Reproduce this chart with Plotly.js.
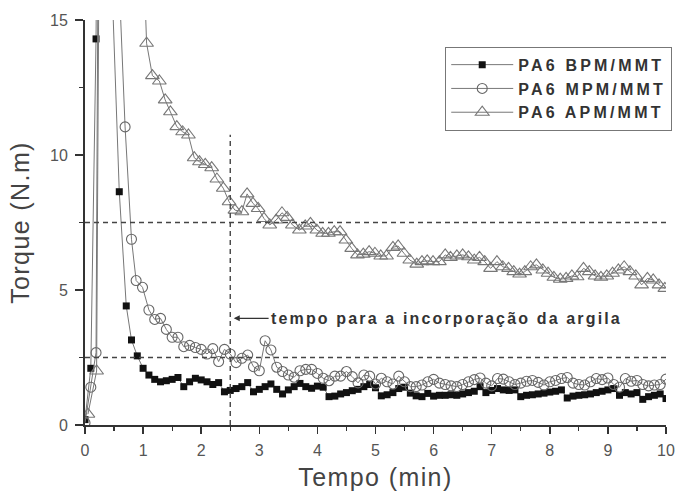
<!DOCTYPE html>
<html>
<head>
<meta charset="utf-8">
<script src="https://cdn.plot.ly/plotly-3.0.1.min.js"></script>
<style>
  html, body { margin: 0; padding: 0; background: #fff; }
  #chart { width: 688px; height: 494px; }
  .legendtext { letter-spacing: 3.2px; }
  .annotation-text { letter-spacing: 2.15px; }
  .xtitle, .ytitle { letter-spacing: 1.4px; }
</style>
</head>
<body>
<div id="chart"></div>
<script>
// ---- data ----
const seriesNames = ["PA6 BPM/MMT", "PA6 MPM/MMT", "PA6 APM/MMT"];

const bpmTime = [0.0, 0.1, 0.19, 0.29, 0.39, 0.47, 0.59, 0.71, 0.8, 0.9,
  1.0, 1.1, 1.2, 1.3, 1.4, 1.5, 1.6, 1.7, 1.8, 1.9,
  2.0, 2.1, 2.2, 2.3, 2.4, 2.5, 2.6, 2.7, 2.8, 2.9,
  3.0, 3.1, 3.2, 3.3, 3.4, 3.5, 3.6, 3.7, 3.8, 3.9,
  4.0, 4.1, 4.2, 4.3, 4.4, 4.5, 4.6, 4.7, 4.8, 4.9,
  5.0, 5.1, 5.2, 5.3, 5.4, 5.5, 5.6, 5.7, 5.8, 5.9,
  6.0, 6.1, 6.2, 6.3, 6.4, 6.5, 6.6, 6.7, 6.8, 6.9,
  7.0, 7.1, 7.2, 7.3, 7.4, 7.5, 7.6, 7.7, 7.8, 7.9,
  8.0, 8.1, 8.2, 8.3, 8.4, 8.5, 8.6, 8.7, 8.8, 8.9,
  9.0, 9.1, 9.2, 9.3, 9.4, 9.5, 9.6, 9.7, 9.8, 9.9, 10.0];
const bpmTorque = [0.2, 2.1, 14.3, 45, 30, 16, 8.64, 4.41, 3.15, 2.56,
  2.1, 1.85, 1.69, 1.6, 1.64, 1.69, 1.76, 1.42, 1.6, 1.73,
  1.67, 1.6, 1.5, 1.57, 1.23, 1.28, 1.35, 1.42, 1.57, 1.23,
  1.32, 1.42, 1.52, 1.32, 1.15, 1.3, 1.42, 1.54, 1.42, 1.36,
  1.44, 1.4, 1.05, 1.07, 1.15, 1.2, 1.27, 1.32, 1.42, 1.5,
  1.38, 1.08, 1.12, 1.2, 1.35, 1.4, 1.18, 1.08, 1.05, 1.17,
  1.07, 1.1, 1.1, 1.12, 1.1, 1.15, 1.2, 1.25, 1.42, 1.2,
  1.28, 1.35, 1.3, 1.28, 1.3, 1.05, 1.1, 1.12, 1.15, 1.18,
  1.22, 1.25, 1.3, 1.0, 1.07, 1.1, 1.12, 1.15, 1.2, 1.25,
  1.3, 1.35, 1.1, 1.2, 1.15, 1.2, 0.95, 1.05, 1.1, 1.15, 0.98];

const mpmTime = [0.0, 0.1, 0.19, 0.3, 0.52, 0.69, 0.8, 0.88, 0.99,
  1.1, 1.2, 1.3, 1.4, 1.5, 1.6, 1.7, 1.8, 1.9,
  2.0, 2.1, 2.2, 2.3, 2.4, 2.5, 2.6, 2.7, 2.8, 2.9,
  3.0, 3.1, 3.2, 3.3, 3.4, 3.5, 3.6, 3.7, 3.8, 3.9,
  4.0, 4.1, 4.2, 4.3, 4.4, 4.5, 4.6, 4.7, 4.8, 4.9,
  5.0, 5.1, 5.2, 5.3, 5.4, 5.5, 5.6, 5.7, 5.8, 5.9,
  6.0, 6.1, 6.2, 6.3, 6.4, 6.5, 6.6, 6.7, 6.8, 6.9,
  7.0, 7.1, 7.2, 7.3, 7.4, 7.5, 7.6, 7.7, 7.8, 7.9,
  8.0, 8.1, 8.2, 8.3, 8.4, 8.5, 8.6, 8.7, 8.8, 8.9,
  9.0, 9.1, 9.2, 9.3, 9.4, 9.5, 9.6, 9.7, 9.8, 9.9, 10.0];
const mpmTorque = [0.08, 1.4, 2.68, 50, 20, 11.04, 6.88, 5.35, 5.1,
  4.26, 3.91, 3.95, 3.54, 3.25, 3.25, 2.9, 2.95, 2.87,
  2.8, 2.63, 2.83, 2.35, 2.8, 2.63, 2.31, 2.47, 2.59, 2.16,
  2.01, 3.12, 2.78, 2.14, 1.98, 1.85, 1.77, 2.01, 2.06, 2.06,
  1.91, 1.73, 1.64, 1.81, 1.81, 1.98, 1.79, 1.56, 1.85, 1.81,
  1.52, 1.73, 1.6, 1.52, 1.81, 1.6, 1.42, 1.42, 1.48, 1.6,
  1.69, 1.55, 1.5, 1.45, 1.42, 1.5, 1.6, 1.68, 1.74, 1.55,
  1.45, 1.72, 1.7, 1.6, 1.5, 1.55, 1.62, 1.65, 1.58, 1.48,
  1.6, 1.65, 1.72, 1.76, 1.55, 1.5, 1.48, 1.6, 1.72, 1.68,
  1.74, 1.5, 1.4, 1.72, 1.62, 1.65, 1.5, 1.45, 1.48, 1.5, 1.7];

const apmTime = [0.05, 0.2, 0.3, 0.6, 0.95, 1.06, 1.16, 1.28, 1.38, 1.47,
  1.58, 1.68, 1.78, 1.88, 1.97, 2.07, 2.18, 2.27, 2.38, 2.48,
  2.58, 2.7, 2.79, 2.89, 2.98, 3.08, 3.18, 3.29, 3.39, 3.48,
  3.57, 3.69, 3.79, 3.88, 3.99, 4.09, 4.19, 4.29, 4.39, 4.49,
  4.59, 4.69, 4.79, 4.89, 4.99, 5.09, 5.19, 5.3, 5.39, 5.49,
  5.59, 5.71, 5.8, 5.89, 5.99, 6.1, 6.2, 6.29, 6.4, 6.5,
  6.6, 6.7, 6.79, 6.88, 6.98, 7.09, 7.19, 7.29, 7.38, 7.48,
  7.57, 7.67, 7.77, 7.88, 7.97, 8.07, 8.18, 8.28, 8.38, 8.47,
  8.58, 8.68, 8.78, 8.88, 8.98, 9.08, 9.18, 9.28, 9.38, 9.48,
  9.58, 9.68, 9.78, 9.88, 9.98];
const apmTorque = [0.4, 2.0, 40, 45, 21, 14.14, 12.94, 12.74, 12.04, 11.6,
  11.05, 10.86, 10.74, 9.9, 9.75, 9.65, 9.53, 9.11, 8.77, 8.27,
  7.96, 7.9, 8.56, 8.21, 8.02, 7.65, 7.41, 7.59, 7.86, 7.69,
  7.41, 7.22, 7.37, 7.47, 7.22, 7.1, 7.1, 7.16, 7.16, 6.85,
  6.54, 6.3, 6.33, 6.42, 6.36, 6.26, 6.26, 6.58, 6.63, 6.36,
  6.11, 5.96, 6.05, 6.08, 6.05, 6.05, 6.3, 6.21, 6.26, 6.3,
  6.23, 6.11, 6.21, 6.05, 5.8, 6.05, 5.86, 5.8, 5.68, 5.59,
  5.68, 5.86, 5.93, 5.74, 5.62, 5.47, 5.4, 5.43, 5.52, 5.49,
  5.8, 5.68, 5.52, 5.47, 5.52, 5.62, 5.74, 5.86, 5.68, 5.52,
  5.19, 5.43, 5.37, 5.19, 5.06];

const xTicks = [0, 1, 2, 3, 4, 5, 6, 7, 8, 9, 10];
const yTicks = [0, 5, 10, 15];
const refTorqueLevels = [7.5, 2.5];
const incorporationTime = 2.5;
const incorporationTop = 10.75;
const annotationText = "tempo para a incorporação da argila";
const annotationTorque = 3.95;

// ---- traces ----
const lineStyle = { color: "#777", width: 1 };
const traces = [
  { x: bpmTime, y: bpmTorque, name: seriesNames[0], mode: "lines+markers",
    line: lineStyle, cliponaxis: true,
    marker: { symbol: "square", size: 7, color: "#111", line: { color: "#111", width: 0 } } },
  { x: mpmTime, y: mpmTorque, name: seriesNames[1], mode: "lines+markers",
    line: lineStyle, cliponaxis: true,
    marker: { symbol: "circle-open", size: 10, color: "#666", line: { width: 1.1 } } },
  { x: apmTime, y: apmTorque, name: seriesNames[2], mode: "lines+markers",
    line: lineStyle, cliponaxis: true,
    marker: { symbol: "triangle-up-open", size: 12, color: "#777", line: { width: 1.1 } } }
];

const shapes = refTorqueLevels.map(v => ({
  type: "line", xref: "x", yref: "y", x0: 0, x1: 10.07, y0: v, y1: v,
  line: { color: "#444", width: 1.4, dash: "5px,4px" }
}));
shapes.push({
  type: "line", xref: "x", yref: "y", x0: incorporationTime, x1: incorporationTime,
  y0: 0, y1: incorporationTop, line: { color: "#444", width: 1.4, dash: "5px,4px" }
});

const axisFont = { family: "Liberation Sans, Arial, sans-serif", size: 16, color: "#555" };
const titleFont = { family: "Liberation Sans, Arial, sans-serif", size: 25, color: "#444" };

const layout = {
  width: 688, height: 494,
  margin: { l: 85, r: 22, t: 20, b: 69 },
  paper_bgcolor: "#fff", plot_bgcolor: "#fff",
  showlegend: true,
  legend: {
    x: 0.62, y: 0.934, xanchor: "left", yanchor: "top",
    bordercolor: "#777", borderwidth: 1, bgcolor: "#fff",
    font: { family: "Liberation Sans, Arial, sans-serif", size: 16, color: "#333", weight: "bold" },
    itemwidth: 62, tracegroupgap: 0, entrywidth: 230
  },
  xaxis: {
    range: [0, 10], tickvals: xTicks, ticktext: xTicks.map(String),
    ticks: "outside", ticklen: 7, tickwidth: 1.5, tickcolor: "#333",
    minor: { dtick: 0.5, ticks: "outside", ticklen: 4, tickwidth: 1.3, tickcolor: "#333" },
    showline: true, linecolor: "#333", linewidth: 2, showgrid: false, zeroline: false,
    tickfont: axisFont, ticklabelstandoff: 3,
    title: { text: "Tempo (min)", font: titleFont, standoff: 10 }
  },
  yaxis: {
    range: [0, 15], tickvals: yTicks, ticktext: yTicks.map(String),
    ticks: "outside", ticklen: 8, tickwidth: 1.5, tickcolor: "#333",
    minor: { dtick: 2.5, ticks: "outside", ticklen: 4, tickwidth: 1.3, tickcolor: "#333" },
    showline: true, linecolor: "#333", linewidth: 2, showgrid: false, zeroline: false,
    tickfont: axisFont, ticklabelstandoff: 4,
    title: { text: "Torque (N.m)", font: titleFont, standoff: 13 }
  },
  shapes: shapes,
  annotations: [{
    x: incorporationTime + 0.06, y: annotationTorque, xref: "x", yref: "y",
    ax: incorporationTime + 0.66, ay: annotationTorque, axref: "x", ayref: "y",
    text: annotationText, showarrow: true, xanchor: "left", yanchor: "middle",
    arrowhead: 2, arrowsize: 1, arrowwidth: 1.2, arrowcolor: "#333",
    font: { family: "Liberation Sans, Arial, sans-serif", size: 16, color: "#333", weight: "bold" }
  }]
};

Plotly.newPlot("chart", traces, layout, { displayModeBar: false, staticPlot: true });
</script>
</body>
</html>
